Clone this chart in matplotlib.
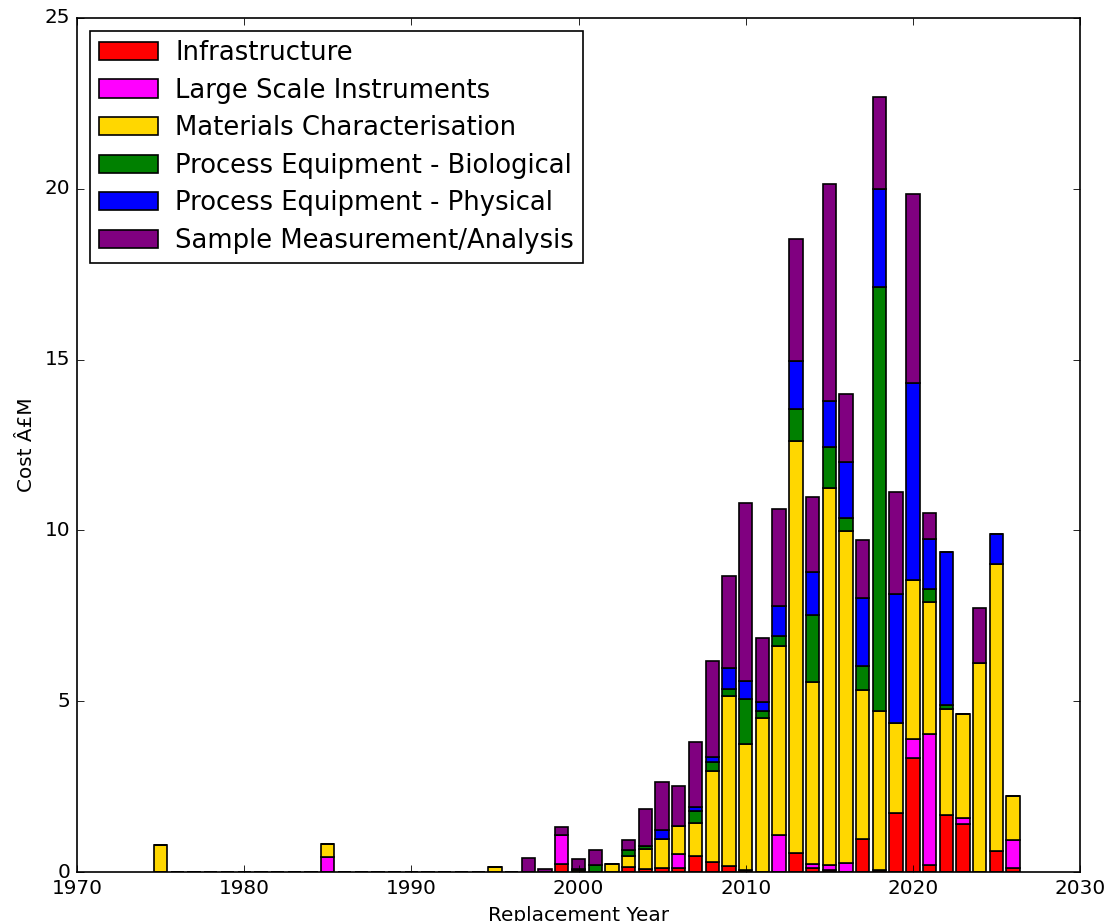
import matplotlib
matplotlib.use('Agg')
import matplotlib.pyplot as plt
import numpy as np

plt.style.use('classic')

# replacement cost per year, split by equipment category (GBP M)
years = list(range(1975, 2027))

infrastructure = [0, 0, 0, 0, 0, 0, 0, 0, 0, 0,
                  0, 0, 0, 0, 0, 0, 0, 0, 0, 0,
                  0, 0, 0, 0, 0.22, 0, 0, 0, 0.15, 0.10,
                  0.13, 0.13, 0.46, 0.29, 0.18, 0.07, 0, 0, 0.57, 0.12,
                  0.07, 0, 0.96, 0.07, 1.73, 3.35, 0.21, 1.66, 1.41, 0,
                  0.61, 0.13]
large_scale = [0, 0, 0, 0, 0, 0, 0, 0, 0, 0,
               0.45, 0, 0, 0, 0, 0, 0, 0, 0, 0,
               0, 0, 0, 0, 0.85, 0, 0, 0, 0, 0,
               0, 0.41, 0, 0, 0, 0, 0, 1.07, 0, 0.10,
               0.13, 0.27, 0, 0, 0, 0.55, 3.82, 0, 0.17, 0,
               0, 0.80]
materials = [0.78, 0, 0, 0, 0, 0, 0, 0, 0, 0,
             0.36, 0, 0, 0, 0, 0, 0, 0, 0, 0,
             0.15, 0, 0, 0, 0, 0.06, 0, 0.22, 0.31, 0.58,
             0.85, 0.81, 0.98, 2.67, 4.98, 3.69, 4.51, 5.55, 12.06, 5.33,
             11.03, 9.71, 4.38, 4.63, 2.64, 4.65, 3.86, 3.12, 3.05, 6.13,
             8.42, 1.29]
proc_bio = [0, 0, 0, 0, 0, 0, 0, 0, 0, 0,
            0, 0, 0, 0, 0, 0, 0, 0, 0, 0,
            0, 0, 0, 0, 0, 0.04, 0.20, 0, 0.19, 0.08,
            0, 0, 0.36, 0.26, 0.20, 1.31, 0.19, 0.30, 0.91, 1.97,
            1.22, 0.39, 0.70, 12.43, 0, 0, 0.39, 0.12, 0, 0,
            0, 0]
proc_phys = [0, 0, 0, 0, 0, 0, 0, 0, 0, 0,
             0, 0, 0, 0, 0, 0, 0, 0, 0, 0,
             0, 0, 0, 0, 0, 0, 0, 0, 0, 0,
             0.24, 0, 0.10, 0.15, 0.62, 0.52, 0.27, 0.87, 1.42, 1.25,
             1.34, 1.62, 1.97, 2.86, 3.76, 5.75, 1.48, 4.46, 0, 0,
             0.85, 0]
sample = [0, 0, 0, 0, 0, 0, 0, 0, 0, 0,
          0, 0, 0, 0, 0, 0, 0, 0, 0, 0,
          0, 0, 0.42, 0.10, 0.25, 0.28, 0.43, 0, 0.28, 1.09,
          1.41, 1.17, 1.90, 2.81, 2.68, 5.20, 1.89, 2.85, 3.56, 2.22,
          6.35, 1.99, 1.71, 2.71, 3.00, 5.54, 0.76, 0, 0, 1.59,
          0, 0]

labels = ['Infrastructure', 'Large Scale Instruments', 'Materials Characterisation',
          'Process Equipment - Biological', 'Process Equipment - Physical',
          'Sample Measurement/Analysis']
colours = ['red', 'magenta', 'gold', 'green', 'blue', 'purple']
series = [infrastructure, large_scale, materials, proc_bio, proc_phys, sample]

fig = plt.figure(figsize=(1118 / 120, 921 / 120), dpi=120, facecolor='white')
ax = fig.add_axes([0.0689, 0.0532, 0.8971, 0.9273])

bottom = np.zeros(len(years))
for vals, lab, col in zip(series, labels, colours):
    ax.bar(years, vals, width=0.8, bottom=bottom, color=col, edgecolor='black',
           linewidth=1.0, align='center', label=lab)
    bottom += np.array(vals)

ax.set_xlim(1970, 2030)
ax.set_ylim(0, 25)
ax.ticklabel_format(useOffset=False)
ax.set_xlabel('Replacement Year')
ax.set_ylabel('Cost Â£M')
ax.legend(loc='upper left', fontsize=15.5, handlelength=2.3, borderpad=0.35,
          labelspacing=0.45, handletextpad=0.65)

fig.savefig('out.png', dpi=120, facecolor='white')
